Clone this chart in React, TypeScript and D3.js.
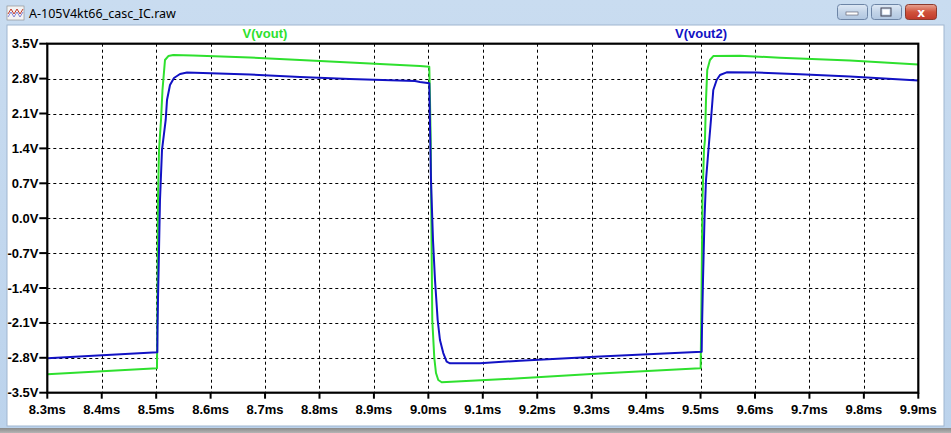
import React from "react";
import * as d3 from "d3";

const W = 951;
const H = 433;

const TITLE = "A-105V4kt66_casc_IC.raw";
const xTickValues = [8.3, 8.4, 8.5, 8.6, 8.7, 8.8, 8.9, 9.0, 9.1, 9.2, 9.3, 9.4, 9.5, 9.6, 9.7, 9.8, 9.9];
const xTickLabels = ["8.3ms", "8.4ms", "8.5ms", "8.6ms", "8.7ms", "8.8ms", "8.9ms", "9.0ms", "9.1ms", "9.2ms", "9.3ms", "9.4ms", "9.5ms", "9.6ms", "9.7ms", "9.8ms", "9.9ms"];
const yTickValues = [3.5, 2.8, 2.1, 1.4, 0.7, 0.0, -0.7, -1.4, -2.1, -2.8, -3.5];
const yTickLabels = ["3.5V", "2.8V", "2.1V", "1.4V", "0.7V", "0.0V", "-0.7V", "-1.4V", "-2.1V", "-2.8V", "-3.5V"];

const seriesNames = ["V(vout)", "V(vout2)"];

// V(vout): [time ms, volts]
const voutT = [8.3, 8.5015, 8.5024, 8.5033, 8.5052, 8.5089, 8.5116, 8.5162, 8.5223, 8.5314, 8.5676, 8.6723, 8.7642, 8.856, 8.9846, 9.0017,
  9.003, 9.0043, 9.0057, 9.0072, 9.0109, 9.014, 9.0182, 9.0245, 9.1683, 9.3152, 9.4989,
  9.5002, 9.5017, 9.5035, 9.5063, 9.5081, 9.51, 9.5123, 9.5173, 9.5234, 9.5724, 9.6459, 9.7745, 9.9];
const voutV = [-3.13, -3.01, -1.64, 0.365, 1.368, 1.97, 2.571, 3.173, 3.253, 3.273, 3.263, 3.223, 3.173, 3.123, 3.053, 3.039,
  2.371, 1.569, -0.237, -2.042, -2.804, -3.105, -3.245, -3.291, -3.211, -3.115, -3.011,
  -3.011, -1.64, 0.365, 1.368, 1.569, 2.371, 2.973, 3.173, 3.253, 3.259, 3.219, 3.163, 3.083];

// V(vout2): [time ms, volts]
const vout2T = [8.3, 8.5021, 8.5024, 8.5033, 8.5052, 8.507, 8.5107, 8.5175, 8.5199, 8.5254, 8.5327, 8.5438, 8.5566, 8.6723, 8.7642, 8.856, 8.9754, 8.9846, 9.0017,
  9.0035, 9.0048, 9.0085, 9.0122, 9.0171, 9.0213, 9.0274, 9.0336, 9.0397, 9.0948, 9.1683, 9.3152, 9.5021,
  9.5026, 9.5045, 9.5072, 9.51, 9.516, 9.5191, 9.5234, 9.5296, 9.5357, 9.548, 9.6031, 9.6826, 9.7745, 9.9];
const vout2V = [-2.81, -2.69, -2.242, -1.641, -0.638, 0.365, 1.368, 1.97, 2.371, 2.672, 2.812, 2.892, 2.922, 2.882, 2.832, 2.792, 2.752, 2.732, 2.706,
  1.569, 0.766, -0.437, -1.239, -2.042, -2.443, -2.704, -2.878, -2.91, -2.91, -2.858, -2.774, -2.678,
  -2.242, -1.239, -0.036, 0.766, 1.569, 1.97, 2.571, 2.772, 2.872, 2.926, 2.922, 2.886, 2.842, 2.76];

const GREEN = "#2ee02e";
const BLUE = "#1212c4";

export default function App() {
  const left = 47.3, right = 918.3, top = 43.7, bottom = 392.7;
  const x = d3.scaleLinear().domain([8.3, 9.9]).range([left, right]);
  const y = d3.scaleLinear().domain([-3.5, 3.5]).range([bottom, top]);
  const line = d3.line<number>().x((d) => x(d[0])).y((d) => y(d[1]));
  const g = line(voutT.map((t, i) => [t, voutV[i]]) as any) || "";
  const b = line(vout2T.map((t, i) => [t, vout2V[i]]) as any) || "";
  const font = "'Liberation Sans', Arial, sans-serif";

  return (
    <svg width={W} height={H} style={{ position: "absolute", left: 0, top: 0, display: "block" }}>
      <defs>
        <linearGradient id="tb" x1="0" y1="0" x2="0" y2="1">
          <stop offset="0" stopColor="#c9dcf0" />
          <stop offset="1" stopColor="#bcd3ec" />
        </linearGradient>
        <linearGradient id="btn" x1="0" y1="0" x2="0" y2="1">
          <stop offset="0" stopColor="#dfe9f5" />
          <stop offset="0.5" stopColor="#c3d4e8" />
          <stop offset="1" stopColor="#b0c6e0" />
        </linearGradient>
        <linearGradient id="cls" x1="0" y1="0" x2="0" y2="1">
          <stop offset="0" stopColor="#e8a493" />
          <stop offset="0.5" stopColor="#d0533c" />
          <stop offset="1" stopColor="#c0392b" />
        </linearGradient>
        <linearGradient id="bot" x1="0" y1="0" x2="0" y2="1">
          <stop offset="0" stopColor="#8a8a8a" />
          <stop offset="1" stopColor="#b5b5b5" />
        </linearGradient>
      </defs>
      {/* window chrome */}
      <rect x={0} y={0} width={W} height={H} fill="url(#tb)" />
      <rect x={0} y={428} width={W} height={5} fill="url(#bot)" />
      <rect x={7} y={25} width={937} height={401} fill="#ffffff" stroke="#9fb6d0" strokeWidth={1} />
      {/* icon */}
      <g>
        <rect x={7} y={6} width={17} height={14} fill="#f3f3f3" stroke="#888" strokeWidth={0.6} />
        <path d="M8,14 L11,9 L14,14 L17,9 L20,14 L23,9" fill="none" stroke="#c0392b" strokeWidth={1} />
        <path d="M8,17 L11,12 L14,17 L17,12 L20,17 L23,12" fill="none" stroke="#6a6ad0" strokeWidth={0.8} />
      </g>
      <text x={29} y={18} fontFamily="'Noto Sans', 'DejaVu Sans', sans-serif" fontSize={12.5} fill="#000">{TITLE}</text>
      {/* buttons */}
      <rect x={837.5} y={4.5} width={30} height={15} rx={3} fill="url(#btn)" stroke="#6d85a6" />
      <rect x={846} y={12} width={12} height={3} fill="#fff" stroke="#556" strokeWidth={0.6} />
      <rect x={871.5} y={4.5} width={30} height={15} rx={3} fill="url(#btn)" stroke="#6d85a6" />
      <rect x={881} y={8} width={10} height={8} fill="none" stroke="#445" strokeWidth={1} />
      <rect x={882.5} y={9.5} width={7} height={5} fill="#fff" stroke="none" />
      <rect x={905.5} y={4.5} width={31} height={15} rx={3} fill="url(#cls)" stroke="#8c3a2d" />
      <text x={921} y={16.5} textAnchor="middle" fontFamily="'DejaVu Sans', sans-serif" fontWeight="bold" fontSize={12} fill="#fff">x</text>

      {/* grid */}
      {xTickValues.slice(1, -1).map((t) => (
        <line key={"gx" + t} x1={Math.round(x(t)) + 0.5} x2={Math.round(x(t)) + 0.5} y1={top} y2={bottom} stroke="#000" strokeWidth={1} strokeDasharray="3,3" />
      ))}
      {yTickValues.slice(1, -1).map((v) => (
        <line key={"gy" + v} x1={left} x2={right} y1={Math.round(y(v)) + 0.5} y2={Math.round(y(v)) + 0.5} stroke="#000" strokeWidth={1} strokeDasharray="3,3" />
      ))}

      {/* traces */}
      <path d={g} fill="none" stroke={GREEN} strokeWidth={2} strokeLinejoin="round" />
      <path d={b} fill="none" stroke={BLUE} strokeWidth={2} strokeLinejoin="round" />

      {/* frame */}
      <rect x={left} y={top} width={right - left} height={bottom - top} fill="none" stroke="#000" strokeWidth={2.2} />

      {/* x ticks */}
      {xTickValues.map((t, i) => (
        <g key={"xt" + t}>
          <line x1={x(t)} x2={x(t)} y1={bottom} y2={bottom + 6} stroke="#000" strokeWidth={2} />
          <text x={x(t)} y={413.5} textAnchor="middle" fontFamily={font} fontSize={13} fontWeight="bold" fill="#000">{xTickLabels[i]}</text>
        </g>
      ))}
      {/* y ticks */}
      {yTickValues.map((v, i) => (
        <g key={"yt" + v}>
          <line x1={left - 8} x2={left} y1={y(v)} y2={y(v)} stroke="#000" strokeWidth={2} />
          <text x={38.5} y={y(v) + 4.5} textAnchor="end" fontFamily={font} fontSize={13} fontWeight="bold" fill="#000">{yTickLabels[i]}</text>
        </g>
      ))}

      {/* legend labels */}
      <text x={265} y={38} textAnchor="middle" fontFamily={font} fontSize={13} fontWeight="bold" fill={GREEN}>{seriesNames[0]}</text>
      <text x={701} y={38} textAnchor="middle" fontFamily={font} fontSize={13} fontWeight="bold" fill={BLUE}>{seriesNames[1]}</text>
    </svg>
  );
}
